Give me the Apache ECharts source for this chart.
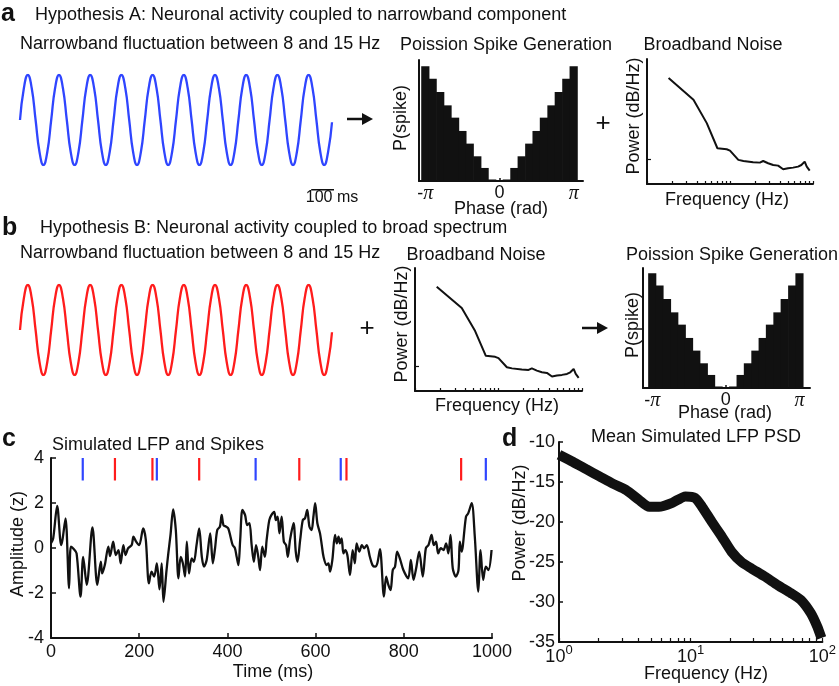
<!DOCTYPE html>
<html><head><meta charset="utf-8">
<script src="https://cdn.jsdelivr.net/npm/echarts@6/dist/echarts.min.js"></script>
<style>html,body{margin:0;padding:0;background:#fff}#c{width:839px;height:686px}</style>
</head><body><div id="c"></div>
<script>
// ---------------- DATA ----------------
// Narrowband fluctuation (normalized amplitude), sampled every 15 ms
const narrowbandStepMs = 15;
const narrowbandWave = [
  0,0.71,1,0.71,0,-0.71,-1,-0.71, 0,0.71,1,0.71,0,-0.71,-1,-0.71,
  0,0.71,1,0.71,0,-0.71,-1,-0.71, 0,0.71,1,0.71,0,-0.71,-1,-0.71,
  0,0.71,1,0.71,0,-0.71,-1,-0.71, 0,0.71,1,0.71,0,-0.71,-1,-0.71,
  0,0.71,1,0.71,0,-0.71,-1,-0.71, 0,0.71,1,0.71,0,-0.71,-1,-0.71,
  0,0.71,1,0.71,0,-0.71,-1,-0.71, 0,0.71,1,0.71,0,-0.71,-1,-0.71, -0.05
];
const scaleBarMs = [1120, 1220];

// Poisson spike generation: phase bins (rad) and spike probability
const phaseBins = [-3.14,-2.83,-2.51,-2.20,-1.88,-1.57,-1.26,-0.94,-0.63,-0.31,0,0.31,0.63,0.94,1.26,1.57,1.88,2.20,2.51,2.83,3.14];
const phaseBinWidth = 0.314;
const spikeProb = [9.05,8.08,7.03,5.97,5.0,3.95,2.95,1.95,1.03,0.12,0.05,0.12,1.03,1.95,2.95,3.95,5.0,5.97,7.03,8.08,9.05];
const phaseTicks = [-3.14159, 0, 3.14159];
const phaseTickLabels = ['-π', '0', 'π'];

// Broadband noise spectrum (arbitrary units)
const noiseFreq  = [1.82,3.63,5.25,7.05,9.12,10.0,12.6,14.5,19.0,22.9,25.1,28.8,33.1,38.0,43.7,50.1,57.5,66.1,72.4,79.4,84.1,91.2];
const noisePower = [8.48,6.74,4.87,2.86,2.78,2.67,1.93,1.84,1.74,1.71,1.84,1.66,1.52,1.47,1.18,1.26,1.31,1.39,1.52,1.79,1.39,1.07];
const noiseYTicks = [2];

// Simulated LFP (z) vs time (ms)
const lfpTime = [0,5,14,23,26,33,41,45,52,58,67,73,81,94,105,113,116,122,130,134,141,147,153,158,164,169,175,183,187,193,200,209,215,222,228,234,240,246,251,255,262,266,271,277,283,289,294,299,304,308,313,319,324,330,336,342,347,353,361,367,372,377,383,387,391,397,402,407,412,417,421,425,429,434,440,445,450,455,460,465,470,474,479,485,489,495,500,506,510,514,518,523,528,533,537,542,550,555,559,565,571,576,581,586,591,595,599,604,610,614,618,625,629,633,638,644,648,652,655,659,663,667,672,678,684,689,693,699,705,710,716,723,729,735,740,746,755,760,765,770,775,780,785,791,799,810,816,822,828,835,843,850,856,863,868,873,878,884,890,896,901,906,911,918,924,927,931,941,946,954,961,969,974,980,986,992,999];
const lfpAmp = [0.21,0.43,1.87,0.13,0.36,1.32,-1.79,0.06,-0.06,-0.24,-2.16,-0.39,-1.64,0.92,-1.64,-0.61,-1.13,-0.76,0.06,-0.36,0.28,-0.31,-0.09,-0.68,0.13,-0.31,-0.01,0.13,0.50,0.28,0.13,0.87,0.36,-1.57,-1.05,-1.27,-0.68,-1.84,-0.68,-2.39,-0.98,-0.24,0.58,1.72,0.80,-1.35,-0.39,-0.68,-1.27,0.28,-1.13,-0.46,-0.61,0.13,0.87,-0.39,-0.83,-0.53,0.65,-0.68,-0.01,0.80,0.95,1.47,1.02,0.95,0.87,0.50,0.13,-0.01,-0.39,-0.76,0.36,1.69,1.47,1.02,1.10,0.13,-0.61,0.13,-0.39,-0.98,0.06,-0.39,0.36,1.24,1.47,1.61,1.24,1.39,0.65,1.39,0.28,0.13,-0.39,0.36,1.10,-0.16,-0.61,0.36,1.24,1.32,1.69,0.95,0.80,1.39,1.99,1.10,0.65,0.13,-0.39,-0.76,-0.68,-1.05,-0.53,0.58,0.21,0.50,0.21,0.43,-0.24,-0.09,-0.31,-1.20,-0.09,-0.68,0.21,-0.16,0.13,-0.01,0.13,-0.39,-0.76,-0.83,-0.68,-0.05,-2.16,-1.27,-1.64,-1.87,-0.98,-0.83,-0.16,-0.46,-0.98,-1.35,-0.53,-1.42,-0.90,-0.16,-1.27,-0.01,0.13,0.58,0.13,0.28,-0.24,-0.01,-0.09,0.21,-0.24,0.58,-0.90,-1.27,-0.98,0.28,-0.16,1.39,1.54,1.99,0.50,-1.94,-0.09,-1.42,-0.83,-0.98,-0.09];
const blueSpikeTimes = [72, 240, 464, 657, 986];
const redSpikeTimes  = [145, 230, 336, 563, 670, 930];
const spikeRange = [3, 4];

// Mean simulated LFP PSD
const psdFreq  = [1.0,1.28,1.61,2.03,2.56,3.23,4.06,4.83,5.74,7.24,9.12,10.8,12.2,14.5,17.2,20.4,24.3,28.9,36.4,45.9,57.8,68.7,81.7,91.6,98.3];
const psdPower = [-11.6,-12.5,-13.4,-14.3,-15.2,-16.0,-17.25,-18.1,-18.1,-17.6,-16.8,-17.0,-18.1,-20.0,-21.8,-23.7,-25.0,-25.8,-26.8,-27.9,-28.9,-29.75,-31.4,-33.1,-34.5];
const logTicks = [1,2,3,4,5,6,7,8,9,10,20,30,40,50,60,70,80,90,100];
const logLabelTicks = [1, 10, 100];

// ---------------- STYLE ----------------
const FONT = '"Liberation Sans", Arial, Helvetica, sans-serif';
const INK = '#111';
const BLUE = '#2f45ff';
const RED = '#ff1c1c';
const scaleBarLevel = -1.55;

const chart = echarts.init(document.getElementById('c'), null, {renderer: 'canvas'});

const axLine = {show: true, onZero: false, lineStyle: {color: INK, width: 2}};
function bareAxis(gi, type, min, max, extra) {
  return Object.assign({type, gridIndex: gi, min, max, axisLine: axLine,
    axisTick: {show: false}, axisLabel: {show: false}, splitLine: {show: false}}, extra || {});
}
function hidden(gi, min, max) {
  return {type: 'value', gridIndex: gi, min, max, show: false, splitLine: {show: false}};
}
const phaseLabel = {
  customValues: phaseTicks, margin: 3, color: INK, fontSize: 18, fontFamily: FONT,
  formatter: function (v) {
    let i = phaseTicks.findIndex(t => Math.abs(t - v) < 1e-3);
    if (i < 0) return '';
    return phaseTickLabels[i].replace('π', '{p|π}');
  },
  rich: {p: {fontFamily: '"Liberation Serif", "DejaVu Serif", serif', fontStyle: 'italic', fontSize: 20, color: INK}}
};
const phaseTick = {show: true, inside: true, length: 3, customValues: phaseTicks, lineStyle: {color: INK, width: 1.5}};
const logTick = {show: true, inside: true, length: 3, customValues: logTicks, lineStyle: {color: INK, width: 1.2}};

const grids = [
  {left: 20, top: 75, width: 312, height: 90},     // 0 sine A
  {left: 419, top: 60, width: 164, height: 121},   // 1 hist A
  {left: 647, top: 59, width: 166, height: 125},   // 2 noise A
  {left: 20, top: 285, width: 312, height: 90},    // 3 sine B
  {left: 415, top: 268, width: 167, height: 123},  // 4 noise B
  {left: 643, top: 268, width: 167, height: 120},  // 5 hist B
  {left: 51, top: 458, width: 441, height: 180},   // 6 LFP
  {left: 559, top: 442, width: 266, height: 200}   // 7 PSD
];

const xAxes = [
  hidden(0, 0, 1200),
  bareAxis(1, 'value', -3.408, 3.535, {axisTick: phaseTick, axisLabel: phaseLabel}),
  bareAxis(2, 'log', 1, 100, {logBase: 10, axisTick: logTick}),
  hidden(3, 0, 1200),
  bareAxis(4, 'log', 1, 100, {logBase: 10, axisTick: logTick}),
  bareAxis(5, 'value', -3.534, 3.589, {axisTick: phaseTick, axisLabel: phaseLabel}),
  bareAxis(6, 'value', 0, 1000, {interval: 200,
    axisTick: {show: true, inside: true, length: 5, lineStyle: {color: INK, width: 1.5}},
    axisLabel: {show: true, margin: 5, color: INK, fontSize: 18, fontFamily: FONT,
      formatter: function (v) { return String(v); }}}),
  bareAxis(7, 'log', 1, 100, {logBase: 10,
    axisTick: {show: true, inside: true, length: 4, customValues: logTicks, lineStyle: {color: INK, width: 1.2}},
    axisLabel: {show: true, customValues: logLabelTicks, margin: 2, color: INK, fontFamily: FONT,
      formatter: function (v) { return '{b|10}{s|' + Math.round(Math.log10(v)) + '}'; },
      rich: {b: {fontSize: 18, lineHeight: 26, fontFamily: FONT, color: INK},
             s: {fontSize: 13, lineHeight: 14, verticalAlign: 'top', fontFamily: FONT, color: INK}}}})
];
const yAxes = [
  hidden(0, -1, 1),
  bareAxis(1, 'value', 0, 9.55),
  bareAxis(2, 'value', 0, 10, {axisTick: {show: true, inside: true, length: 4, customValues: noiseYTicks, lineStyle: {color: INK, width: 1.2}}}),
  hidden(3, -1, 1),
  bareAxis(4, 'value', 0, 10, {axisTick: {show: true, inside: true, length: 4, customValues: noiseYTicks, lineStyle: {color: INK, width: 1.2}}}),
  bareAxis(5, 'value', 0, 9.47),
  bareAxis(6, 'value', -4, 4, {interval: 2,
    axisTick: {show: true, inside: true, length: 5, lineStyle: {color: INK, width: 1.5}},
    axisLabel: {show: true, margin: 7, color: INK, fontSize: 18, fontFamily: FONT}}),
  bareAxis(7, 'value', -35, -10, {interval: 5,
    axisTick: {show: true, inside: true, length: 4, lineStyle: {color: INK, width: 1.5}},
    axisLabel: {show: true, margin: 4, color: INK, fontSize: 18, fontFamily: FONT}})
];

const sineData = narrowbandWave.map((v, i) => [i * narrowbandStepMs, v]);
const histData = phaseBins.map((p, i) => [p, spikeProb[i]]);
const noiseData = noiseFreq.map((f, i) => [f, noisePower[i]]);
const lfpData = lfpTime.map((t, i) => [t, lfpAmp[i]]);
const psdData = psdFreq.map((f, i) => [f, psdPower[i]]);

function spikeSeries(times, color) {
  return {
    type: 'custom', xAxisIndex: 6, yAxisIndex: 6, clip: false,
    data: times.map(t => [t, spikeRange[0], spikeRange[1]]),
    renderItem: function (params, api) {
      const t = api.value(0);
      const p0 = api.coord([t, api.value(1)]);
      const p1 = api.coord([t, api.value(2)]);
      return {type: 'line', shape: {x1: p0[0], y1: p0[1], x2: p1[0], y2: p1[1]},
              style: {stroke: color, lineWidth: 2.2}};
    }
  };
}
function histSeries(ai) {
  return {
    type: 'custom', xAxisIndex: ai, yAxisIndex: ai,
    data: histData,
    renderItem: function (params, api) {
      const c = api.value(0), v = api.value(1);
      const a = api.coord([c - phaseBinWidth / 2, v]);
      const b = api.coord([c + phaseBinWidth / 2, 0]);
      return {type: 'rect', shape: {x: a[0] - 0.4, y: a[1], width: b[0] - a[0] + 0.8, height: b[1] - a[1]},
              style: {fill: INK}};
    }
  };
}

const series = [
  {type: 'line', xAxisIndex: 0, yAxisIndex: 0, data: sineData, smooth: 0.5, showSymbol: false,
   lineStyle: {color: BLUE, width: 2.3}},
  {type: 'line', xAxisIndex: 0, yAxisIndex: 0, clip: false, showSymbol: false,
   data: scaleBarMs.map(t => [t, scaleBarLevel]), lineStyle: {color: INK, width: 1.6}},
  histSeries(1),
  {type: 'line', xAxisIndex: 2, yAxisIndex: 2, data: noiseData, showSymbol: false, lineStyle: {color: INK, width: 2}},
  {type: 'line', xAxisIndex: 3, yAxisIndex: 3, data: sineData, smooth: 0.5, showSymbol: false,
   lineStyle: {color: RED, width: 2.3}},
  {type: 'line', xAxisIndex: 4, yAxisIndex: 4, data: noiseData, showSymbol: false, lineStyle: {color: INK, width: 2}},
  histSeries(5),
  {type: 'line', xAxisIndex: 6, yAxisIndex: 6, data: lfpData, showSymbol: false, smooth: 0.3,
   lineStyle: {color: INK, width: 2.3}},
  spikeSeries(blueSpikeTimes, BLUE),
  spikeSeries(redSpikeTimes, RED),
  {type: 'line', xAxisIndex: 7, yAxisIndex: 7, data: psdData, showSymbol: false, smooth: 0.2,
   lineStyle: {color: INK, width: 10, join: 'bevel'}}
];

function txt(text, x, y, o) {
  o = o || {};
  const font = (o.bold ? 'bold ' : '') + (o.size || 18) + 'px ' + FONT;
  const al = o.align || 'center';
  return {type: 'text', x: x, y: y, rotation: o.rot || 0, z: 10,
    style: {text: text, x: 0, y: 0, font: font, fill: INK,
      textAlign: al, textVerticalAlign: 'middle', align: al, verticalAlign: 'middle'}};
}
function arrow(x1, x2, y) {
  return [
    {type: 'line', z: 10, shape: {x1: x1, y1: y, x2: x2 - 8, y2: y}, style: {stroke: INK, lineWidth: 2.5}},
    {type: 'polygon', z: 10, shape: {points: [[x2 - 11, y - 6], [x2, y], [x2 - 11, y + 6]]}, style: {fill: INK}}
  ];
}
const R = Math.PI / 2;
const graphics = [
  txt('a', 1, 14, {bold: true, size: 25, align: 'left'}),
  txt('Hypothesis A: Neuronal activity coupled to narrowband component', 35, 15, {align: 'left'}),
  txt('Narrowband fluctuation between 8 and 15 Hz', 20, 44, {align: 'left'}),
  txt('Poission Spike Generation', 506, 45),
  txt('Broadband Noise', 713, 45),
  txt('100 ms', 332, 198, {size: 16}),
  txt('P(spike)', 401, 118, {rot: R}),
  txt('Phase (rad)', 501, 209),
  txt('Power (dB/Hz)', 634, 116, {rot: R}),
  txt('Frequency (Hz)', 727, 200),
  txt('+', 603, 124, {size: 26}),
  txt('b', 2, 228, {bold: true, size: 25, align: 'left'}),
  txt('Hypothesis B: Neuronal activity coupled to broad spectrum', 40, 228, {align: 'left'}),
  txt('Narrowband fluctuation between 8 and 15 Hz', 20, 253, {align: 'left'}),
  txt('Broadband Noise', 476, 255),
  txt('Power (dB/Hz)', 402, 324, {rot: R}),
  txt('Frequency (Hz)', 497, 406),
  txt('+', 367, 329, {size: 26}),
  txt('Poission Spike Generation', 732, 255),
  txt('P(spike)', 633, 325, {rot: R}),
  txt('Phase (rad)', 725, 413),
  txt('c', 2, 439, {bold: true, size: 25, align: 'left'}),
  txt('Simulated LFP and Spikes', 52, 445, {align: 'left'}),
  txt('Amplitude (z)', 18, 544, {rot: R}),
  txt('Time (ms)', 273, 672),
  txt('d', 502, 439, {bold: true, size: 25, align: 'left'}),
  txt('Mean Simulated LFP PSD', 696, 437),
  txt('Power (dB/Hz)', 520, 523, {rot: R}),
  txt('Frequency (Hz)', 706, 674)
].concat(arrow(347, 373, 119), arrow(582, 608, 328));

chart.setOption({
  animation: false,
  backgroundColor: '#fff',
  textStyle: {fontFamily: FONT},
  grid: grids,
  xAxis: xAxes,
  yAxis: yAxes,
  series: series,
  graphic: {elements: graphics}
});
</script></body></html>
